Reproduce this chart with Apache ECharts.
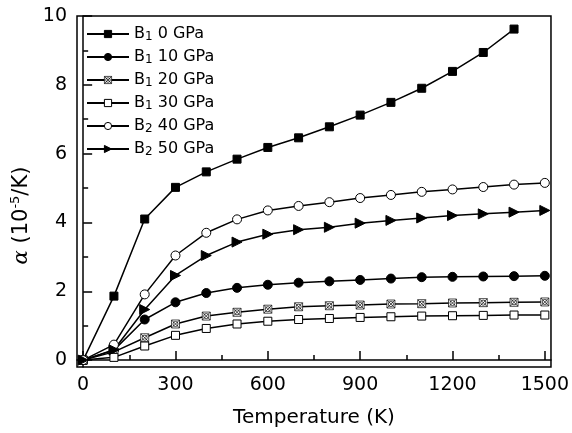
<!DOCTYPE html>
<html>
<head>
<meta charset="utf-8">
<script src="https://cdn.jsdelivr.net/npm/echarts@6/dist/echarts.min.js"></script>
<style>
html, body { margin: 0; padding: 0; background: #fff; }
#main { width: 572px; height: 433px; }
</style>
</head>
<body>
<div id="main"></div>
<script>
// temperature (K)
var temps = [0, 100, 200, 300, 400, 500, 600, 700, 800, 900, 1000, 1100, 1200, 1300, 1400, 1500];

// thermal expansion alpha (10^-5 /K)
var b1_0 = [0, 1.86, 4.1, 5.02, 5.47, 5.84, 6.18, 6.46, 6.78, 7.12, 7.49, 7.9, 8.39, 8.94, 9.62];
var b1_10 = [0, 0.29, 1.18, 1.68, 1.95, 2.1, 2.19, 2.25, 2.29, 2.33, 2.37, 2.41, 2.42, 2.43, 2.44, 2.45];
var b1_20 = [0, 0.24, 0.65, 1.05, 1.28, 1.39, 1.48, 1.55, 1.58, 1.6, 1.63, 1.64, 1.66, 1.67, 1.68, 1.69];
var b1_30 = [0, 0.08, 0.41, 0.72, 0.92, 1.05, 1.13, 1.18, 1.21, 1.24, 1.26, 1.28, 1.29, 1.3, 1.31, 1.31];
var b2_40 = [0, 0.45, 1.91, 3.04, 3.7, 4.09, 4.35, 4.48, 4.59, 4.71, 4.8, 4.89, 4.96, 5.03, 5.1, 5.15];
var b2_50 = [0, 0.3, 1.47, 2.46, 3.04, 3.43, 3.66, 3.79, 3.86, 3.98, 4.06, 4.13, 4.2, 4.25, 4.3, 4.35];

var xTicks = [0, 300, 600, 900, 1200, 1500];
var xMinor = [150, 450, 750, 1050, 1350];
var yTicks = [0, 2, 4, 6, 8, 10];
var yMinor = [1, 3, 5, 7, 9];

var names = ['B1 0 GPa', 'B1 10 GPa', 'B1 20 GPa', 'B1 30 GPa', 'B2 40 GPa', 'B2 50 GPa'];

function pairs(vals) {
    return vals.map(function (v, i) { return [temps[i], v]; });
}

// square with a cross and a small circle
var crossRect = 'path://M0,0 L10,0 L10,10 L0,10 Z M0,0 L10,10 M10,0 L0,10 M5,1.8 A3.2,3.2 0 1 1 4.99,1.8';

var font = 'DejaVu Sans, Verdana, sans-serif';

var fills = ['#000', '#000', '#fff', '#fff', '#fff', '#000'];

function mkSeries(i, vals, symbol, size, rotate, bw) {
    return {
        name: names[i],
        type: 'line',
        data: pairs(vals),
        symbol: symbol,
        symbolSize: size,
        symbolRotate: rotate || 0,
        showAllSymbol: true,
        lineStyle: { color: '#000', width: 1.5 },
        itemStyle: { color: fills[i], borderColor: '#000', borderWidth: bw || 1 },
        emphasis: { disabled: true },
        animation: false
    };
}

var axisText = { color: '#000', fontFamily: font, fontSize: 19 };

echarts.init(document.getElementById('main')).setOption({
    backgroundColor: '#fff',
    animation: false,
    grid: {
        left: 77, right: 19, top: 16, bottom: 66,
        show: true, borderColor: '#000', borderWidth: 1.5
    },
    legend: {
        orient: 'vertical',
        left: 81, top: 20,
        itemWidth: 42,
        itemHeight: 9,
        itemGap: 5,
        data: names.map(function (n, i) {
            return { name: n, itemStyle: { color: fills[i], borderColor: '#000', borderWidth: i === 2 ? 0.7 : 1 } };
        }),
        formatter: function (n) {
            return n.replace(/^B(\d)/, 'B{sub|$1}');
        },
        textStyle: {
            color: '#000', fontFamily: font, fontSize: 16, lineHeight: 18,
            rich: { sub: { fontSize: 12, fontFamily: font, color: '#000', verticalAlign: 'bottom', padding: [3, 0, 0, 0] } }
        }
    },
    xAxis: [{
        type: 'value',
        min: -20, max: 1520,
        position: 'bottom',
        name: 'Temperature (K)',
        nameLocation: 'middle',
        nameGap: 41,
        nameTextStyle: { color: '#000', fontFamily: font, fontSize: 20 },
        axisLine: { lineStyle: { color: '#000', width: 1.5 } },
        axisTick: { inside: true, length: 9, customValues: xTicks, lineStyle: { color: '#000', width: 1.5 } },
        axisLabel: Object.assign({ margin: 9, customValues: xTicks, formatter: function (v) { return String(v); } }, axisText),
        splitLine: { show: false }
    }, {
        type: 'value',
        min: -20, max: 1520,
        position: 'bottom',
        axisLine: { show: false },
        axisTick: { inside: true, length: 5, customValues: xMinor, lineStyle: { color: '#000', width: 1.5 } },
        axisLabel: { show: false },
        splitLine: { show: false }
    }],
    yAxis: [{
        type: 'value',
        min: -0.2, max: 10,
        position: 'left',
        name: '{a|α} (10{sup|-5}/K)',
        nameLocation: 'middle',
        nameGap: 40,
        nameTextStyle: {
            color: '#000', fontFamily: font, fontSize: 21,
            padding: [0, 48, 0, 0],
            rich: {
                a: { fontFamily: 'DejaVu Serif', fontStyle: 'italic', fontSize: 21, color: '#000' },
                sup: { fontFamily: font, fontSize: 13, color: '#000', verticalAlign: 'top', padding: [0, 0, 12, 0] }
            }
        },
        axisLine: { lineStyle: { color: '#000', width: 1.5 } },
        axisTick: { inside: true, length: 9, customValues: yTicks, lineStyle: { color: '#000', width: 1.5 } },
        axisLabel: Object.assign({ margin: 10, customValues: yTicks }, axisText),
        splitLine: { show: false }
    }, {
        type: 'value',
        min: -0.2, max: 10,
        position: 'left',
        axisLine: { show: false },
        axisTick: { inside: true, length: 5, customValues: yMinor, lineStyle: { color: '#000', width: 1.5 } },
        axisLabel: { show: false },
        splitLine: { show: false }
    }],
    series: [
        mkSeries(0, b1_0, 'rect', 8),
        mkSeries(1, b1_10, 'circle', 9),
        mkSeries(2, b1_20, crossRect, 8, 0, 0.7),
        mkSeries(3, b1_30, 'rect', 8),
        mkSeries(4, b2_40, 'circle', 9),
        mkSeries(5, b2_50, 'triangle', 10, -90)
    ]
});
</script>
</body>
</html>
